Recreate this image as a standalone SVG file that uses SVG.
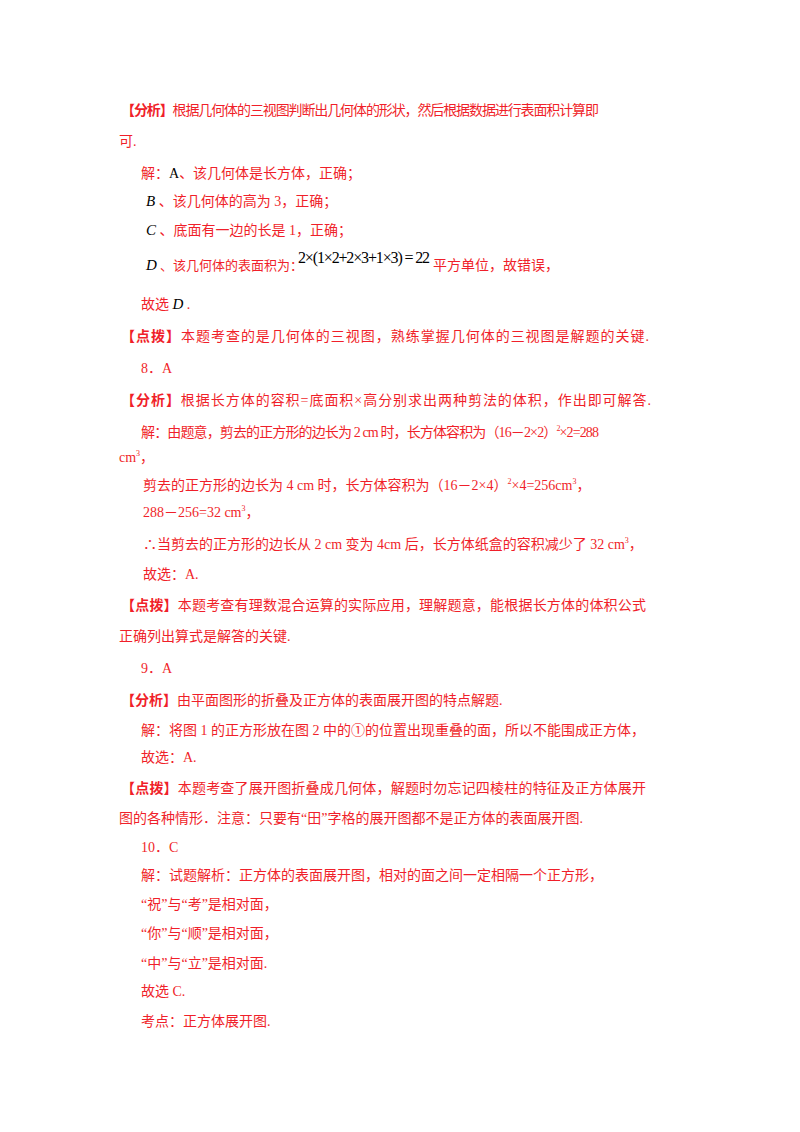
<svg xmlns="http://www.w3.org/2000/svg" width="800" height="1132" viewBox="0 0 800 1132">
<style>
text{font-family:"Liberation Serif","Noto Sans CJK SC",serif;font-size:14px;fill:#f01f2a}
.b{font-weight:bold}
.k{fill:#000;font-style:italic;font-size:15px}
.m{fill:#000}
.s{font-size:8px}
</style>
<rect width="800" height="1132" fill="#fff"/>
<text x="121" y="115" textLength="478"><tspan class="b">【分析】</tspan>根据几何体的三视图判断出几何体的形状，然后根据数据进行表面积计算即</text>
<text x="119" y="146">可.</text>
<text x="141" y="178">解：<tspan class="m">A</tspan>、该几何体是长方体，正确；</text>
<text x="146" y="206"><tspan class="k">B</tspan> 、该几何体的高为 3，正确；</text>
<text x="146" y="235"><tspan class="k">C</tspan> 、底面有一边的长是 1，正确；</text>
<text x="146" y="270" style="font-size:13px"><tspan class="k">D</tspan> 、该几何体的表面积为：</text>
<text x="298" y="263" class="m" style="font-size:16px" textLength="132">2×(1×2+2×3+1×3) = 22</text>
<text x="433" y="270">平方单位，故错误，</text>
<text x="141" y="309">故选 <tspan class="k">D</tspan> .</text>
<text x="121" y="341" textLength="528"><tspan class="b">【点拨】</tspan>本题考查的是几何体的三视图，熟练掌握几何体的三视图是解题的关键.</text>
<text x="141" y="373">8．A</text>
<text x="121" y="405" textLength="530"><tspan class="b">【分析】</tspan>根据长方体的容积=底面积×高分别求出两种剪法的体积，作出即可解答.</text>
<text x="141" y="437" textLength="458">解：由题意，剪去的正方形的边长为 2  cm 时，长方体容积为（16－2×2）<tspan class="s" dy="-6">2</tspan><tspan dy="6">×2=288</tspan></text>
<text x="119" y="462">cm<tspan class="s" dy="-6">3</tspan><tspan dy="6">，</tspan></text>
<text x="143" y="490">剪去的正方形的边长为 4  cm 时，长方体容积为（16－2×4）<tspan class="s" dy="-6">2</tspan><tspan dy="6">×4=256cm</tspan><tspan class="s" dy="-6">3</tspan><tspan dy="6">，</tspan></text>
<text x="143" y="517">288－256=32 cm<tspan class="s" dy="-6">3</tspan><tspan dy="6">，</tspan></text>
<text x="143" y="549">∴当剪去的正方形的边长从  2  cm  变为  4cm 后，长方体纸盒的容积减少了 32 cm<tspan class="s" dy="-6">3</tspan><tspan dy="6">，</tspan></text>
<text x="143" y="579">故选：A.</text>
<text x="121" y="610" textLength="525"><tspan class="b">【点拨】</tspan>本题考查有理数混合运算的实际应用，理解题意，能根据长方体的体积公式</text>
<text x="119" y="641">正确列出算式是解答的关键.</text>
<text x="141" y="673">9．A</text>
<text x="121" y="705"><tspan class="b">【分析】</tspan>由平面图形的折叠及正方体的表面展开图的特点解题.</text>
<text x="141" y="735">解：将图 1 的正方形放在图 2 中的①的位置出现重叠的面，所以不能围成正方体，</text>
<text x="141" y="762">故选：A.</text>
<text x="121" y="793" textLength="525"><tspan class="b">【点拨】</tspan>本题考查了展开图折叠成几何体，解题时勿忘记四棱柱的特征及正方体展开</text>
<text x="119" y="823">图的各种情形．注意：只要有“田”字格的展开图都不是正方体的表面展开图.</text>
<text x="141" y="852">10．C</text>
<text x="141" y="880">解：试题解析：正方体的表面展开图，相对的面之间一定相隔一个正方形，</text>
<text x="141" y="909">“祝”与“考”是相对面，</text>
<text x="141" y="938">“你”与“顺”是相对面，</text>
<text x="141" y="968">“中”与“立”是相对面.</text>
<text x="141" y="996">故选 C.</text>
<text x="141" y="1026">考点：正方体展开图.</text>
</svg>
